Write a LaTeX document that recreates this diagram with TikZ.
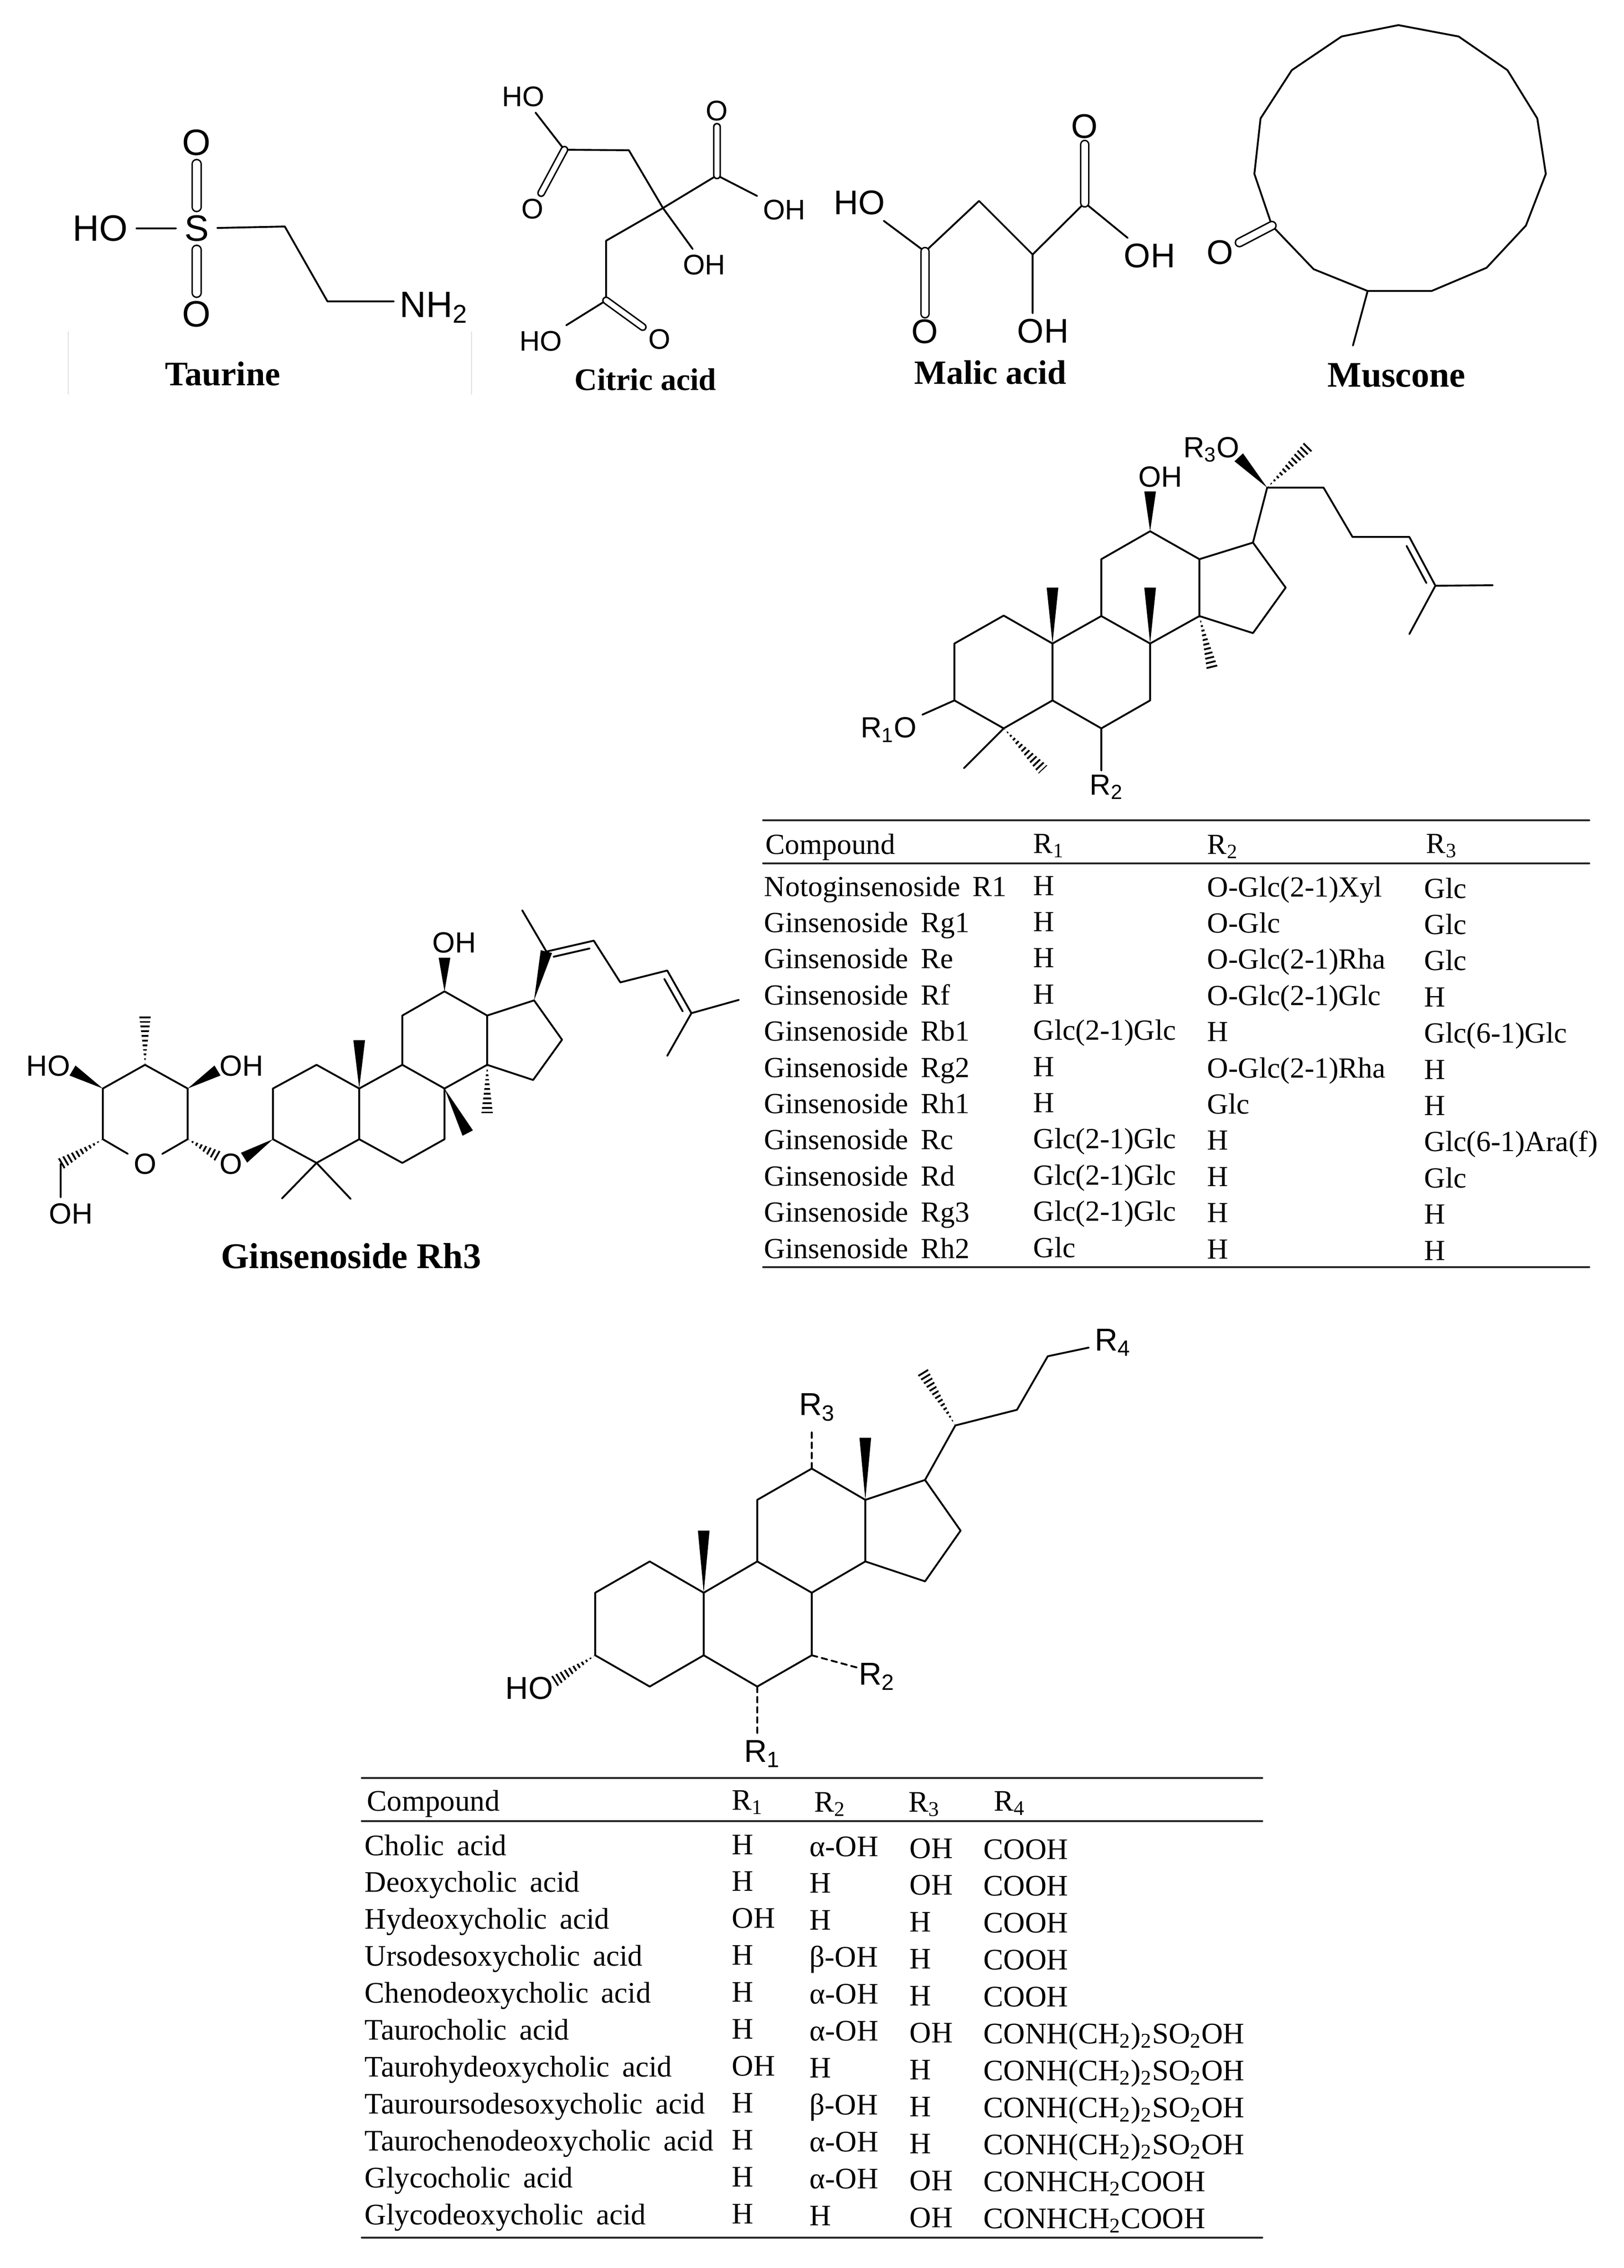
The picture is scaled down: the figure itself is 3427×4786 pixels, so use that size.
\documentclass[tikz,border=0pt]{standalone}
\usepackage{fontspec}
\setmainfont{Liberation Serif}
\setsansfont{Liberation Sans}
\newfontfamily\tabfont[WordSpace=1.7]{Liberation Serif}
\usetikzlibrary{calc}
\tikzset{
	atom/.style={inner sep=3pt,font=\sffamily\fontsize{#1}{#1}\selectfont},
	atom/.default=17.5,
	caption/.style={inner sep=0pt,font=\bfseries\fontsize{#1}{#1}\selectfont},
	cella/.style={anchor=base west,inner sep=0pt,font=\tabfont\fontsize{17.5}{18}\selectfont},
	cellb/.style={anchor=base west,inner sep=0pt,font=\tabfont\fontsize{17.9}{18}\selectfont},
	dbl/.style={double,double distance=#1,line width=.9pt},
	dbl/.default=3.5pt,
	rule/.style={line width=.9pt,black!85},
	dashbond/.style={dash pattern=on 3.5pt off 2.6pt}
}
\newcommand{\wedgebond}[2]{\fill (#1) -- ($(#2)!3.5pt!90:(#1)$) -- ($(#2)!3.5pt!-90:(#1)$) -- cycle;}
\newcommand{\hashbond}[2]{\begin{scope}\clip (#1) -- ($(#2)!3.5pt!90:(#1)$) -- ($(#2)!3.5pt!-90:(#1)$) -- cycle;
	\draw[line width=8pt,line cap=butt,dash pattern=on 1.1pt off 1.7pt] (#1) -- (#2);\end{scope}}
\newcommand{\innerbond}[3]{\draw ($(#1)!.12!(#2)!4pt!#3:(#2)$) -- ($(#1)!.88!(#2)!4pt!#3:(#2)$);}
\begin{document}
\begin{tikzpicture}[x=.01cm, y=-.01cm, line width=1.1pt, line join=round, line cap=round]
	\useasboundingbox (0,0) rectangle (3427,4786);
	% taurine
	\path (601,478) coordinate (ta) (691,636) coordinate (tb);
	\node[atom=22,inner sep=4.5pt] (tS) at (415,482) {S};
	\node[atom=22,inner sep=4.5pt] (tHO) at (212,482) {HO};
	\node[atom=22,inner sep=4.5pt] (tOa) at (415,301) {O};
	\node[atom=22,inner sep=4.5pt] (tOb) at (415,663) {O};
	\node[atom=22,anchor=base west,inner sep=0pt] (tNH) at (842,669) {NH\textsubscript{2}};
	\draw (tHO)--(tS)--(ta)--(tb)--($(tb -| tNH.west)+(-11,0)$);
	\draw[dbl=4.5pt] (tS)--(tOa) (tS)--(tOb);
	\draw[line width=.4pt,black!12] (144,700)--(144,832) (995,700)--(995,832);
	\node[caption=20.6] (tName) at (470,789) {Taurine};
	% citric acid
	\path (1191,316) coordinate (ca) (1327,317) coordinate (cb) (1399,439) coordinate (cc) (1513,370) coordinate (cd) (1279,508) coordinate (ce) (1279,634) coordinate (cf);
	\foreach \n/\p/\t in {cHOa/{1104,204}/HO,cHOb/{1141,720}/HO,cOa/{1124,441}/O,cOb/{1513,234}/O,cOc/{1392,716}/O,cOHa/{1655,443}/OH,cOHb/{1486,559}/OH}
		{\node[atom=17] (\n) at (\p) {\t};}
	\draw (cHOa)--(ca)--(cb)--(cc)--(cOHb) (cOHa)--(cd)--(cc)--(ce)--(cf)--(cHOb);
	\draw[dbl=3pt] (ca)--(cOa) (cd)--(cOb) (cf)--(cOc);
	\node[caption=18.8] (cName) at (1362,801) {Citric acid};
	% malic acid
	\path (1952,531) coordinate (ma) (2066,424) coordinate (mb) (2179,537) coordinate (mc) (2289,428) coordinate (md);
	\foreach \n/\p/\t in {mHO/{1814,428}/HO,mOa/{2289,267}/O,mOb/{1952,700}/O,mOHa/{2426,540}/OH,mOHb/{2201,699}/OH}
		{\node[atom=20.5] (\n) at (\p) {\t};}
	\draw (mHO)--(ma)--(mb)--(mc)--(md)--(mOHa) (mc)--(mc |- mOHb.north);
	\draw[dbl=4pt] (ma)--(mOb) (md)--(mOa);
	\node[caption=20.4] (mName) at (2090,786) {Malic acid};
	% muscone
	\path (2951,53) coordinate (k1) (3078,77) coordinate (k2) (3181,148) coordinate (k3) (3244,250) coordinate (k4) (3262,367) coordinate (k5) (3220,476) coordinate (k6) (3137,565) coordinate (k7) (3021,614) coordinate (k8) (2886,614) coordinate (k9) (2772,568) coordinate (k10) (2684,476) coordinate (k11) (2647,367) coordinate (k12) (2660,250) coordinate (k13) (2726,148) coordinate (k14) (2831,77) coordinate (k15) (2855,729) coordinate (kMe);
	\node[atom=20.5] (kO) at (2575,533) {O};
	\draw (k1)--(k2)--(k3)--(k4)--(k5)--(k6)--(k7)--(k8)--(k9)--(k10)--(k11)--(k12)--(k13)--(k14)--(k15)--cycle (k9)--(kMe);
	\draw[dbl=4pt] (k11)--(kO);
	\node[caption=21.6] (kName) at (2947,792) {Muscone};
	% protopanaxane skeleton
	\path (2118,1299) coordinate (n1) (2014,1358) coordinate (n2) (2014,1478) coordinate (n3) (2118,1537) coordinate (n4) (2221,1478) coordinate (n5) (2324,1537) coordinate (n6) (2427,1478) coordinate (n7) (2427,1358) coordinate (n8) (2324,1300) coordinate (n9) (2221,1358) coordinate (n10) (2324,1180) coordinate (n11) (2427,1121) coordinate (n12) (2531,1180) coordinate (n13) (2531,1300) coordinate (n14) (2644,1336) coordinate (n15) (2713,1240) coordinate (n16) (2644,1145) coordinate (n17) (2674,1029) coordinate (n20) (2793,1029) coordinate (n22) (2854,1133) coordinate (n23) (2974,1133) coordinate (n24) (3029,1236) coordinate (n25) (3150,1235) coordinate (n26) (2974,1338) coordinate (n27);
	\path (2427,1037) coordinate (nwa) (2221,1240) coordinate (nwb) (2427,1240) coordinate (nwc) (2614,965) coordinate (nwd) (2559,1414) coordinate (nha) (2762,941) coordinate (nhb) (2201,1624) coordinate (nhc) (2034,1621) coordinate (nMe) (2324,1626) coordinate (nS);
	\node[atom] (nOH) at (2449,1006) {OH};
	\node[atom] (nR) at (2556,949) {R\textsubscript{3}O};
	\node[atom] (nRa) at (1875,1540) {R\textsubscript{1}O};
	\node[atom] (nRb) at (2335,1661) {R\textsubscript{2}};
	\draw (n1)--(n2)--(n3)--(n4)--(n5)--(n10)--cycle (n5)--(n6)--(n7)--(n8)--(n9)--(n10) (n9)--(n11)--(n12)--(n13)--(n14)--(n8) (n13)--(n17)--(n16)--(n15)--(n14) (n17)--(n20)--(n22)--(n23)--(n24)--(n25)--(n26) (n25)--(n27) (n3)--(nRa) (n4)--(nMe) (n6)--(nS);
	\innerbond{n24}{n25}{-90}
	\foreach \a/\b in {n12/nwa,n10/nwb,n8/nwc,n20/nwd}{\wedgebond{\a}{\b}}
	\foreach \a/\b in {n14/nha,n20/nhb,n4/nhc}{\hashbond{\a}{\b}}
	% ginsenoside Rh3
	\path (668,2247) coordinate (h1) (576,2297) coordinate (h2) (576,2404) coordinate (h3) (668,2454) coordinate (h4) (758,2404) coordinate (h5) (849,2454) coordinate (h6) (938,2404) coordinate (h7) (938,2297) coordinate (h8) (849,2247) coordinate (h9) (758,2297) coordinate (h10) (849,2143) coordinate (h11) (938,2092) coordinate (h12) (1028,2143) coordinate (h13) (1028,2247) coordinate (h14) (1125,2279) coordinate (h15) (1186,2194) coordinate (h16) (1127,2111) coordinate (h17) (1153,2008) coordinate (h20) (1102,1921) coordinate (h21) (1253,1985) coordinate (h22) (1309,2073) coordinate (h23) (1408,2048) coordinate (h24) (1459,2138) coordinate (h25) (1559,2110) coordinate (h26) (1408,2228) coordinate (h27) (595,2529) coordinate (hMa) (740,2530) coordinate (hMb);
	\path (396,2404) coordinate (s1) (396,2297) coordinate (s2) (306,2247) coordinate (s3) (217,2297) coordinate (s4) (217,2404) coordinate (s5) (128,2456) coordinate (s6);
	\path (938,2021) coordinate (hwa) (758,2195) coordinate (hwb) (987,2391) coordinate (hwc) (515,2443) coordinate (hwd) (459,2259) coordinate (swa) (153,2259) coordinate (swb) (1028,2351) coordinate (hha) (306,2143) coordinate (sha) (464,2442) coordinate (shb);
	\foreach \n/\p/\t in {hOH/{959,1989}/OH,hO/{487,2456}/O,sO/{306,2456}/O,sOHa/{510,2249}/OH,sHO/{102,2249}/HO,sOHb/{150,2561}/OH}
		{\node[atom] (\n) at (\p) {\t};}
	\draw (h1)--(h2)--(h3)--(h4)--(h5)--(h10)--cycle (h5)--(h6)--(h7)--(h8)--(h9)--(h10) (h9)--(h11)--(h12)--(h13)--(h14)--(h8) (h13)--(h17)--(h16)--(h15)--(h14) (h21)--(h20)--(h22)--(h23)--(h24)--(h25)--(h26) (h25)--(h27) (hMa)--(h4)--(hMb);
	\draw (s1)--(s2)--(s3)--(s4)--(s5)--(sO)--(s1) (s6)--(s6 |- sOHb.north);
	\innerbond{h20}{h22}{-90}
	\innerbond{h24}{h25}{-90}
	\foreach \a/\b in {h12/hwa,h10/hwb,h8/hwc,h3/hwd,h17/h20,s2/swa,s4/swb}{\wedgebond{\a}{\b}}
	\foreach \a/\b in {h14/hha,s3/sha,s1/shb,s5/s6}{\hashbond{\a}{\b}}
	\node[caption=21.7] (hName) at (741,2650) {Ginsenoside Rh3};
	% first table
	\draw[rule] (1610,1731) coordinate (pa)--(3354,1731) coordinate (pb) (1610,1822) coordinate (pc)--(3354,1822) coordinate (pd) (1610,2674) coordinate (pe)--(3354,2674) coordinate (pf);
	\node[cella] (pHa) at (1614,1802) {Compound};
	\node[cella] (pHb) at (2179,1800) {R\textsubscript{1}};
	\node[cella] (pHc) at (2546,1802) {R\textsubscript{2}};
	\node[cella] (pHd) at (3008,1800) {R\textsubscript{3}};
	\foreach \nm/\ra/\rb/\rc [count=\i from 0] in {Notoginsenoside R1/H/O-Glc(2-1)Xyl/Glc,Ginsenoside Rg1/H/O-Glc/Glc,Ginsenoside Re/H/O-Glc(2-1)Rha/Glc,Ginsenoside Rf/H/O-Glc(2-1)Glc/H,Ginsenoside Rb1/Glc(2-1)Glc/H/Glc(6-1)Glc,Ginsenoside Rg2/H/O-Glc(2-1)Rha/H,Ginsenoside Rh1/H/Glc/H,Ginsenoside Rc/Glc(2-1)Glc/H/Glc(6-1)Ara(f),Ginsenoside Rd/Glc(2-1)Glc/H/Glc,Ginsenoside Rg3/Glc(2-1)Glc/H/H,Ginsenoside Rh2/Glc/H/H}{
		\node[cella] (pn\i) at (1611,{1891+76.4*\i}) {\nm};
		\node[cella] (pa\i) at (2179,{1889+76.4*\i}) {\ra};
		\node[cella] (pb\i) at (2546,{1892+76.4*\i}) {\rb};
		\node[cella] (pc\i) at (3004,{1895+76.4*\i}) {\rc};
	}
	% bile acid skeleton
	\path (1371,3295) coordinate (b1) (1256,3361) coordinate (b2) (1256,3493) coordinate (b3) (1371,3559) coordinate (b4) (1485,3493) coordinate (b5) (1598,3559) coordinate (b6) (1713,3493) coordinate (b7) (1713,3361) coordinate (b8) (1598,3295) coordinate (b9) (1485,3361) coordinate (b10) (1598,3165) coordinate (b11) (1713,3099) coordinate (b12) (1826,3165) coordinate (b13) (1826,3295) coordinate (b14) (1952,3337) coordinate (b15) (2027,3230) coordinate (b16) (1952,3123) coordinate (b17) (2016,3008) coordinate (b20) (2146,2975) coordinate (b22) (2211,2862) coordinate (b23);
	\path (1485,3230) coordinate (bwa) (1826,3034) coordinate (bwb) (1947,2895) coordinate (bha) (1170,3548) coordinate (bhb) (1713,3015) coordinate (bda) (1809,3519) coordinate (bdb) (1598,3662) coordinate (bdc);
	\foreach \n/\p/\t in {bRa/{1608,3701}/R\textsubscript{1},bRb/{1850,3538}/R\textsubscript{2},bRc/{1724,2970}/R\textsubscript{3},bRd/{2348,2833}/R\textsubscript{4},bHO/{1117,3562}/HO}
		{\node[atom=19] (\n) at (\p) {\t};}
	\draw (b1)--(b2)--(b3)--(b4)--(b5)--(b10)--cycle (b5)--(b6)--(b7)--(b8)--(b9)--(b10) (b9)--(b11)--(b12)--(b13)--(b14)--(b8) (b13)--(b17)--(b16)--(b15)--(b14) (b17)--(b20)--(b22)--(b23)--(bRd);
	\draw[dashbond] (b12)--(bda) (b7)--(bdb) (b6)--(bdc);
	\foreach \a/\b in {b10/bwa,b13/bwb}{\wedgebond{\a}{\b}}
	\foreach \a/\b in {b20/bha,b3/bhb}{\hashbond{\a}{\b}}
	% second table
	\draw[rule] (763,3752) coordinate (qa)--(2664,3752) coordinate (qb) (763,3843) coordinate (qc)--(2664,3843) coordinate (qd) (763,4722) coordinate (qe)--(2664,4722) coordinate (qf);
	\node[cellb] (qHa) at (773,3821) {Compound};
	\node[cellb] (qHb) at (1543,3819) {R\textsubscript{1}};
	\node[cellb] (qHc) at (1717,3823) {R\textsubscript{2}};
	\node[cellb] (qHd) at (1916,3823) {R\textsubscript{3}};
	\node[cellb] (qHe) at (2096,3821) {R\textsubscript{4}};
	\foreach \nm/\ra/\rb/\rc/\rd [count=\i from 0] in {Cholic acid/H/α-OH/OH/COOH,Deoxycholic acid/H/H/OH/COOH,Hydeoxycholic acid/OH/H/H/COOH,Ursodesoxycholic acid/H/β-OH/H/COOH,Chenodeoxycholic acid/H/α-OH/H/COOH,Taurocholic acid/H/α-OH/OH/CONH(CH\textsubscript{2})\textsubscript{2}SO\textsubscript{2}OH,Taurohydeoxycholic acid/OH/H/H/CONH(CH\textsubscript{2})\textsubscript{2}SO\textsubscript{2}OH,Tauroursodesoxycholic acid/H/β-OH/H/CONH(CH\textsubscript{2})\textsubscript{2}SO\textsubscript{2}OH,Taurochenodeoxycholic acid/H/α-OH/H/CONH(CH\textsubscript{2})\textsubscript{2}SO\textsubscript{2}OH,Glycocholic acid/H/α-OH/OH/CONHCH\textsubscript{2}COOH,Glycodeoxycholic acid/H/H/OH/CONHCH\textsubscript{2}COOH}{
		\node[cellb] (qn\i) at (768,{3915+77.9*\i}) {\nm};
		\node[cellb] (qa\i) at (1543,{3913+77.9*\i}) {\ra};
		\node[cellb] (qb\i) at (1707,{3917+77.9*\i}) {\rb};
		\node[cellb] (qc\i) at (1918,{3921+77.9*\i}) {\rc};
		\node[cellb] (qd\i) at (2074,{3923+77.9*\i}) {\rd};
	}
\end{tikzpicture}
\end{document}
